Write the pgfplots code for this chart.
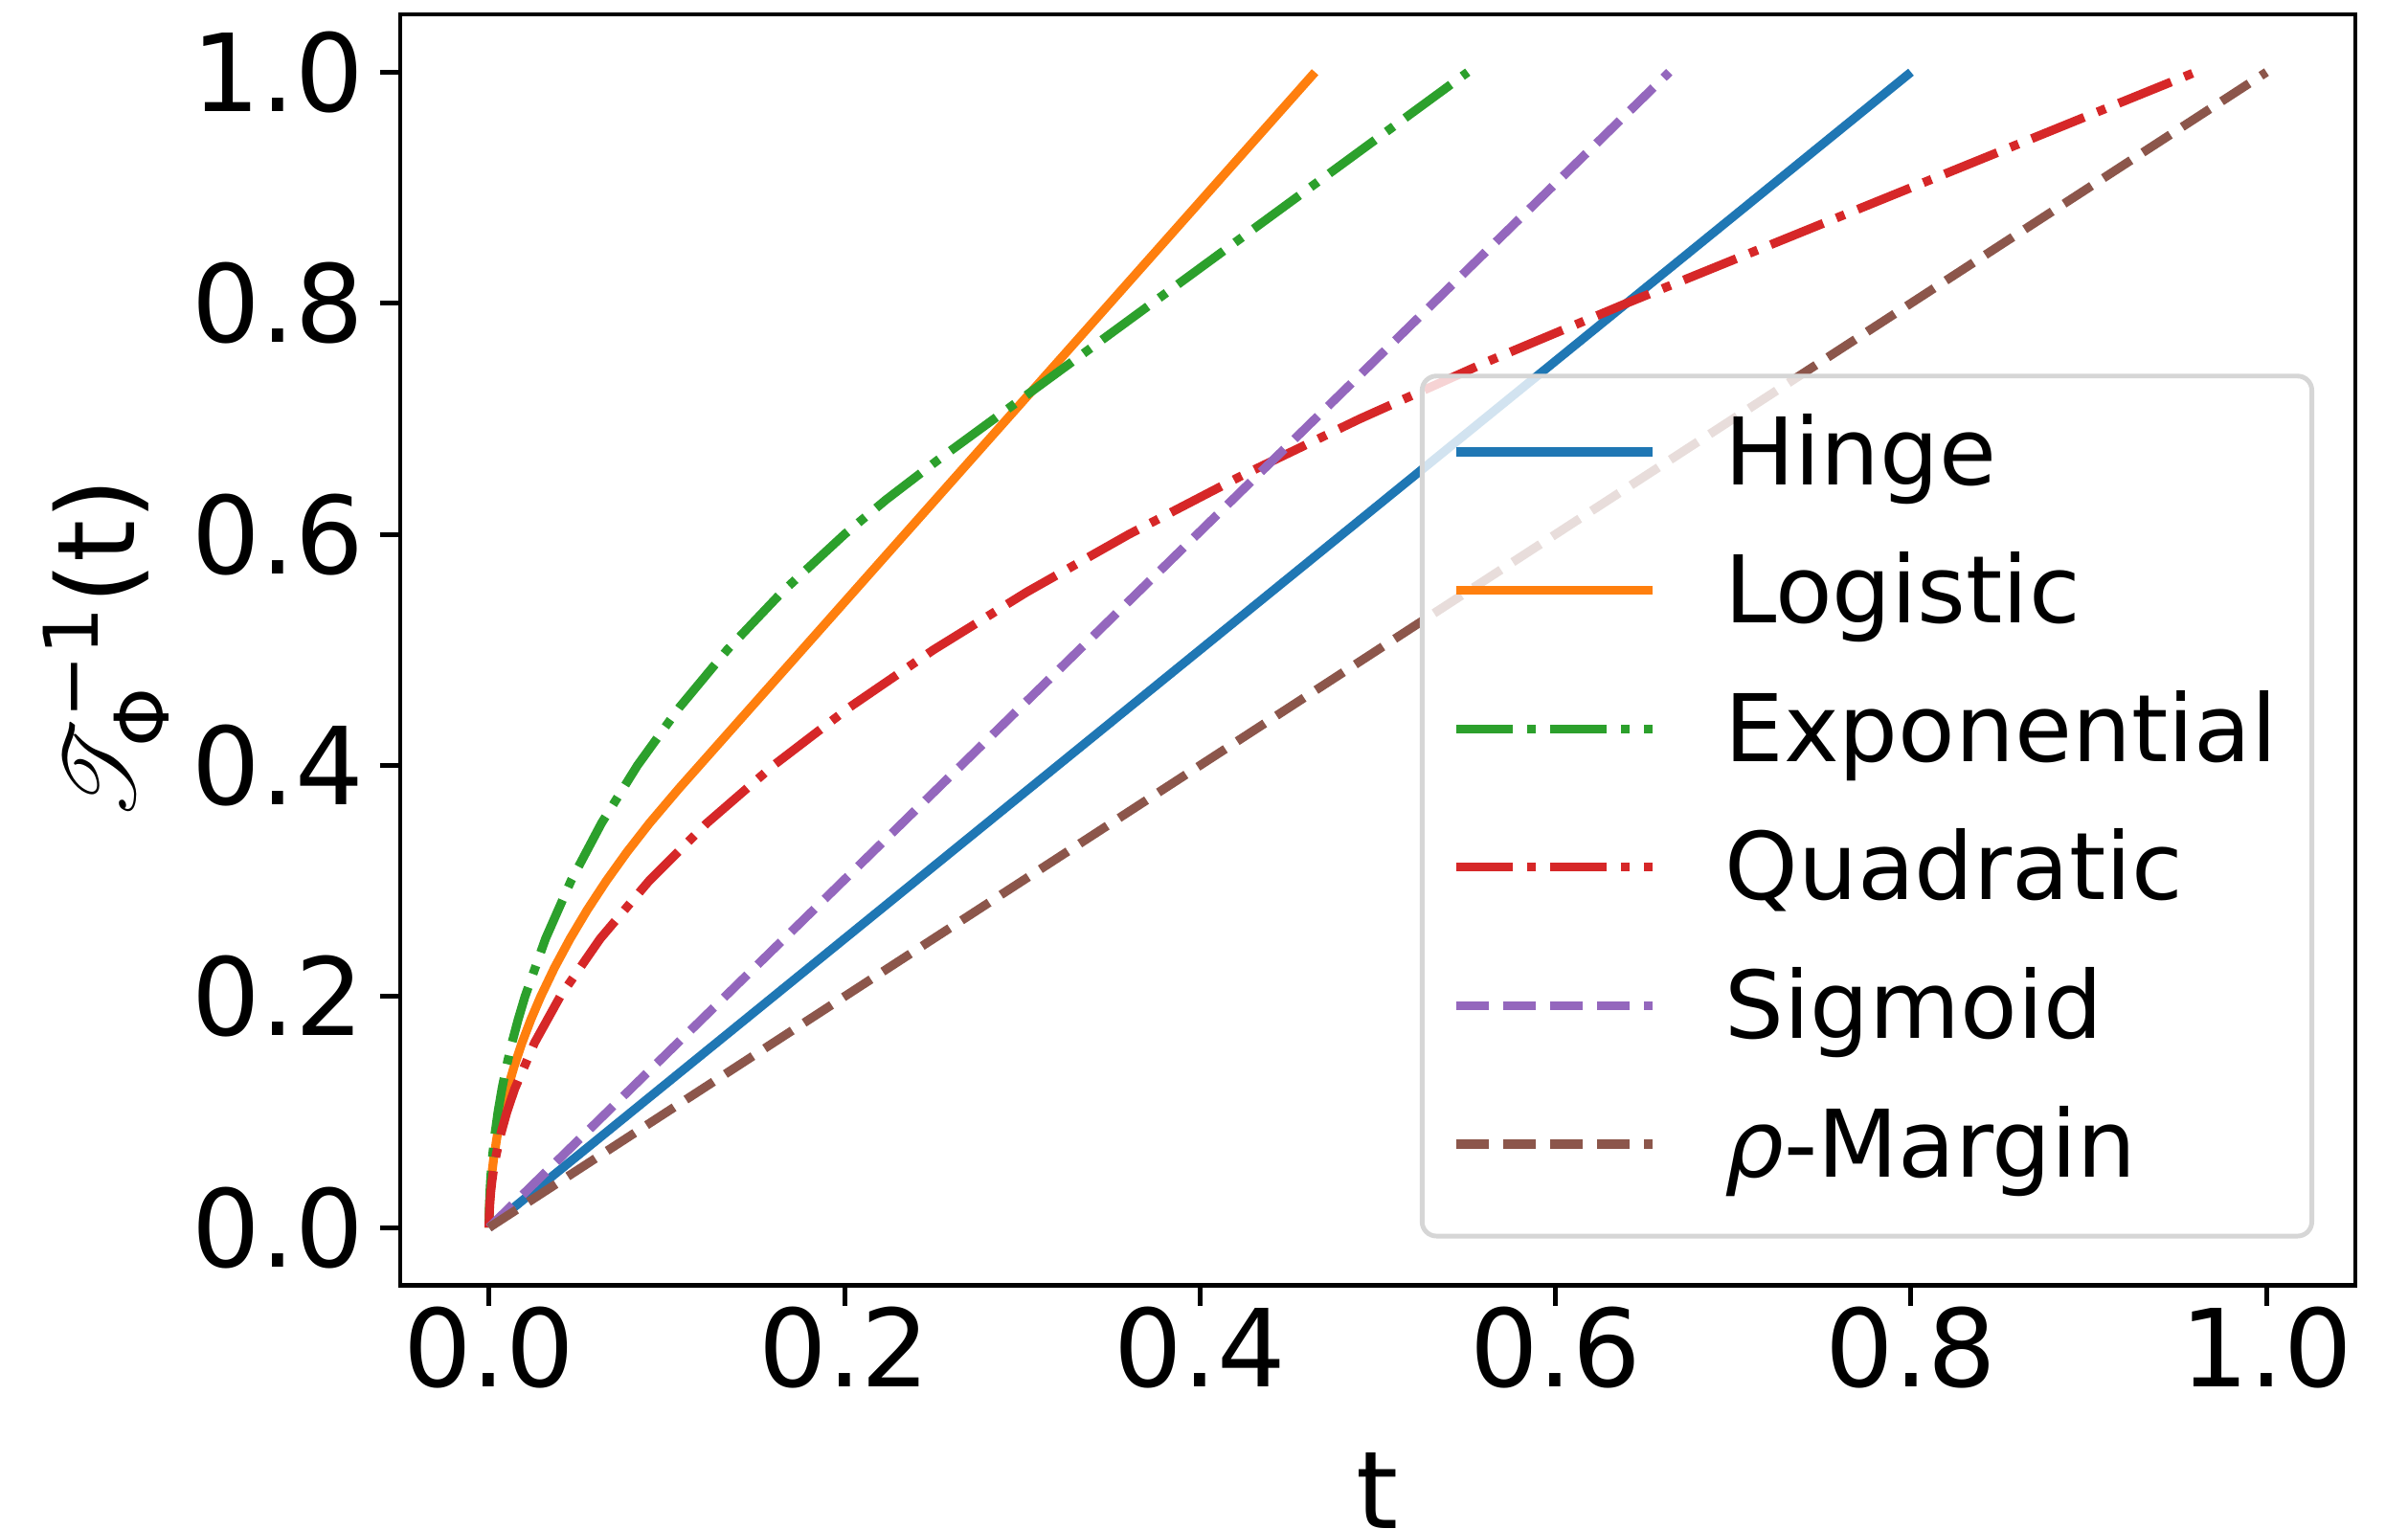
\documentclass[border=0pt]{standalone}
\usepackage{fontspec}
\setmainfont{DejaVu Sans}
\usepackage{amsmath}
\usepackage{mathrsfs}
\usepackage{pgfplots}
\pgfplotsset{compat=1.18}

\definecolor{c0}{HTML}{1F77B4}
\definecolor{c1}{HTML}{FF7F0E}
\definecolor{c2}{HTML}{2CA02C}
\definecolor{c3}{HTML}{D62728}
\definecolor{c4}{HTML}{9467BD}
\definecolor{c5}{HTML}{8C564B}

\pgfplotsset{
  solidln/.style={line width=1.85pt, line join=round},
  dashln/.style={line width=1.85pt, dash pattern=on 6.85pt off 2.96pt},
  dashdotln/.style={line width=1.85pt, dash pattern=on 11.84pt off 2.96pt on 1.85pt off 2.96pt},
}

\begin{document}
\begin{tikzpicture}
\begin{axis}[
    scale only axis,
    width=408.4pt, height=265.5pt,
    xmin=-0.05, xmax=1.05, ymin=-0.05, ymax=1.05,
    xtick={0,0.2,0.4,0.6,0.8,1},
    ytick={0,0.2,0.4,0.6,0.8,1},
    xtick pos=bottom, ytick pos=left,
    tick align=outside,
    major tick length=4.27pt,
    every tick/.style={black, line width=0.98pt},
    axis line style={line width=0.98pt},
    /pgf/number format/assume math mode=true,
    /pgf/number format/.cd, fixed, fixed zerofill, precision=1, /pgfplots/.cd,
    tick label style={font=\fontsize{22.5}{27}\selectfont},
    xticklabel style={anchor=north, inner sep=0pt},
    yticklabel style={anchor=east, inner sep=0pt, xshift=-3.2pt},
    label style={font=\fontsize{22.5}{27}\selectfont},
    xlabel={t},
    ylabel={$\mathscr{T}_{\text{Φ}}^{\text{−1}}$(t)},
    xlabel style={at={(axis description cs:0.5,-0.191)}, anchor=base, inner sep=0pt},
    ylabel style={at={(axis description cs:-0.1359,0.5)}, anchor=base, rotate=0, inner sep=0pt},
    legend image code/.code={\draw[#1] (0pt,6.8pt) -- (41pt,6.8pt);},
    legend style={
      at={(axis description cs:1,0)}, anchor=south east,
      xshift=-8.6pt, yshift=9.8pt,
      fill=white, fill opacity=0.8, draw opacity=1, text opacity=1,
      draw=black!16, line width=0.98pt, rounded corners=3pt,
      inner xsep=6.2pt, inner ysep=7pt,
      row sep=7.86pt, column sep=14.2pt,
      font=\fontsize{19.5}{24}\selectfont,
      nodes={inner sep=0pt, text height=15.66pt, text depth=5.4pt,
             text width=116.4pt, align=left},
      cells={anchor=base west},
    },
]
% Hinge
\addplot[c0, solidln] coordinates {(0,0) (0.8,1.0)};
\addlegendentry{Hinge}
% Logistic
\addplot[c1, solidln] coordinates {
  (0,0) (0.0000180,0.005) (0.0000721,0.01) (0.000289,0.02) (0.000649,0.03)
  (0.001155,0.04) (0.001804,0.05) (0.002599,0.06) (0.004622,0.08)
  (0.007226,0.10) (0.010412,0.12) (0.014185,0.14) (0.018546,0.16)
  (0.023500,0.18) (0.029050,0.20) (0.036832,0.225) (0.045566,0.25)
  (0.055262,0.275) (0.065932,0.30) (0.077594,0.325) (0.090264,0.35)
  (0.106827,0.38) (0.4647,1.0)};
\addlegendentry{Logistic}
% Exponential
\addplot[c2, dashdotln] coordinates {
  (0,0) (0.0000125,0.005) (0.00005,0.01) (0.0002,0.02) (0.00045,0.03)
  (0.0008,0.04) (0.001251,0.05) (0.001802,0.06) (0.003205,0.08)
  (0.005013,0.10) (0.007226,0.12) (0.009848,0.14) (0.012883,0.16)
  (0.016333,0.18) (0.020204,0.20) (0.031754,0.25) (0.046061,0.30)
  (0.063250,0.35) (0.083485,0.40) (0.106971,0.45) (0.133975,0.50)
  (0.164835,0.55) (0.200000,0.60) (0.223405,0.63) (0.252267,0.664)
  (0.5506,1.0)};
\addlegendentry{Exponential}
% Quadratic
\addplot[c3, dashdotln] coordinates {
  (0,0) (0.000025,0.005) (0.0001,0.01) (0.0004,0.02) (0.0009,0.03)
  (0.0016,0.04) (0.0025,0.05) (0.0036,0.06) (0.0064,0.08) (0.01,0.10)
  (0.0144,0.12) (0.0256,0.16) (0.04,0.20) (0.0625,0.25) (0.09,0.30)
  (0.1225,0.35) (0.16,0.40) (0.2025,0.45) (0.25,0.50) (0.3025,0.55)
  (0.36,0.60) (0.4225,0.65) (0.49,0.70) (0.5625,0.75) (0.64,0.80)
  (0.96,1.0)};
\addlegendentry{Quadratic}
% Sigmoid
\addplot[c4, dashln] coordinates {(0,0) (0.664,1.0)};
\addlegendentry{Sigmoid}
% rho-Margin
\addplot[c5, dashln] coordinates {(0,0) (1.0,1.0)};
\addlegendentry{{\itshape ρ}-Margin}
\end{axis}
\pgfresetboundingbox
\useasboundingbox ([shift={(-83.6pt,-50.7pt)}]current axis.south west)
  rectangle ([shift={(11pt,3pt)}]current axis.north east);
\end{tikzpicture}
\end{document}
